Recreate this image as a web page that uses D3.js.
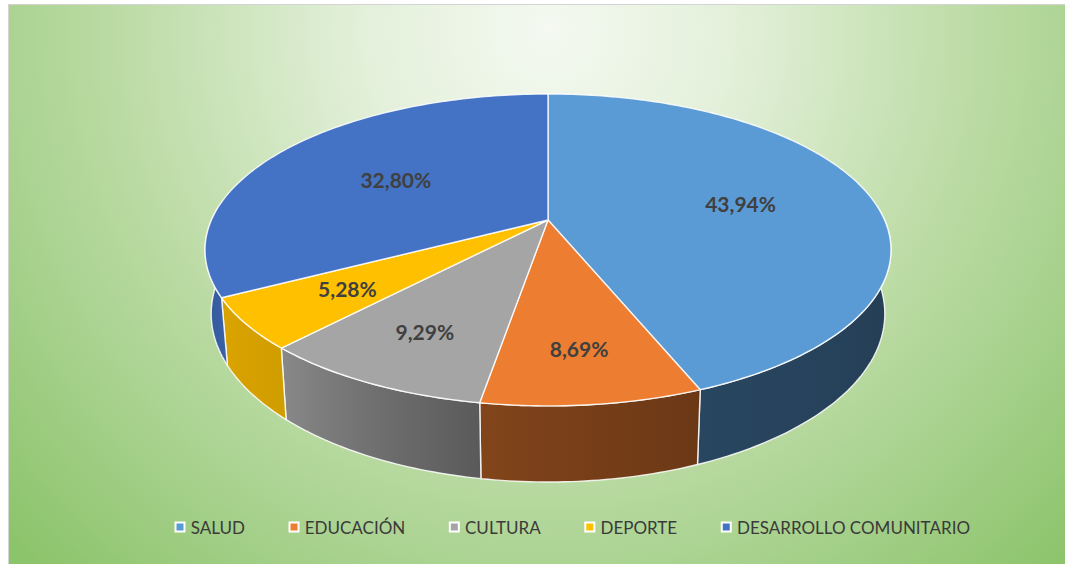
<!DOCTYPE html>
<html><head><meta charset="utf-8">
<script src="https://cdn.jsdelivr.net/npm/d3@7"></script>
<style>html,body{margin:0;padding:0;background:#fff;} svg{display:block;}</style>
</head><body>
<svg id="chart" width="1065" height="564"></svg>
<script>
// Distribución del presupuesto por área
const categories = ["SALUD", "EDUCACIÓN", "CULTURA", "DEPORTE", "DESARROLLO COMUNITARIO"];
const shares = [43.94, 8.69, 9.29, 5.28, 32.80];
const colors = ["#5b9bd5", "#ed7d31", "#a5a5a5", "#ffc000", "#4472c4"];

const W = 1065, H = 564;
const svg = d3.select("#chart");
const defs = svg.append("defs");

// Background panel with a soft radial green fill
const bg = defs.append("radialGradient").attr("id", "bgGrad")
  .attr("gradientUnits", "userSpaceOnUse")
  .attr("cx", 548).attr("cy", 30).attr("r", 740);
[[0, "#f5f9f1"], [0.25, "#e3f0da"], [0.55, "#bfdda9"], [0.8, "#a3cf88"], [1, "#8cc46b"]]
  .forEach(([o, c]) => bg.append("stop").attr("offset", o).attr("stop-color", c));
svg.append("rect").attr("x", 0).attr("y", 0).attr("width", W).attr("height", H).attr("fill", "#ffffff");
svg.append("rect").attr("x", 8.5).attr("y", 4.5).attr("width", W).attr("height", H)
  .attr("fill", "url(#bgGrad)").attr("stroke", "#d4d4d4").attr("stroke-width", 1);

// 3D pie geometry: a disk seen in perspective (top plane homography) plus thickness
const cx = 548, cy = 220, A = 336.6, B = 150.2, k = 0.192, T = 61.5, shrink = 0.982;
function proj(phi, r, level) {
  const u = r * Math.sin(phi), v = -r * Math.cos(phi);
  const s = 1 / (1 - k * v);
  let x = cx + A * u * s, y = cy + B * v * s;
  if (level) { x = cx + (x - cx) * shrink; y += T * s; }
  return [x, y];
}
function rim(a0, a1, level) {
  const n = Math.max(2, Math.ceil(Math.abs(a1 - a0) / (Math.PI / 180)));
  return d3.range(n + 1).map(i => proj(a0 + (a1 - a0) * i / n, 1, level));
}

const pie = d3.pie().sort(null).value(d => d.value);
const arcs = pie(categories.map((c, i) => ({ name: c, value: shares[i], color: colors[i], i })));

const deg = Math.PI / 180;
const shade = d3.scaleLinear().domain([90, 158, 190, 222, 240, 270])
  .range([0.38, 0.45, 0.55, 0.82, 0.85, 0.68]).clamp(true);
const scaleColor = (c, f) => { const q = d3.rgb(c); return d3.rgb(q.r * f, q.g * f, q.b * f).formatHex(); };

const edge = "rgba(255,255,255,0.85)";
const line = d3.line();

// Side walls (front half only is visible)
const sideG = svg.append("g");
arcs.forEach(a => {
  const lo = Math.max(a.startAngle, 85 * deg), hi = Math.min(a.endAngle, 275 * deg);
  if (hi <= lo) return;
  const top = rim(lo, hi, 0), bot = rim(hi, lo, 1);
  const glo = Math.max(lo, 101 * deg), ghi = Math.min(hi, 259 * deg);
  const x1 = proj(glo, 1, 0)[0], x2 = proj(ghi, 1, 0)[0];
  const gid = "side" + a.data.i;
  const g = defs.append("linearGradient").attr("id", gid).attr("gradientUnits", "userSpaceOnUse")
    .attr("x1", x1).attr("y1", 0).attr("x2", x2).attr("y2", 0);
  d3.range(9).forEach(j => {
    const ang = glo + (ghi - glo) * j / 8;
    const x = proj(ang, 1, 0)[0];
    const off = x2 === x1 ? 0 : (x - x1) / (x2 - x1);
    g.append("stop").attr("offset", Math.max(0, Math.min(1, off)))
      .attr("stop-color", scaleColor(a.data.color, shade(ang / deg)));
  });
  sideG.append("path").attr("d", line(top.concat(bot)) + "Z")
    .attr("fill", `url(#${gid})`).attr("stroke", edge).attr("stroke-width", 1.4)
    .attr("stroke-linejoin", "round");
});

// Top faces
const topG = svg.append("g");
arcs.forEach(a => {
  const pts = [[cx, cy]].concat(rim(a.startAngle, a.endAngle, 0));
  topG.append("path").attr("d", line(pts) + "Z")
    .attr("fill", a.data.color).attr("stroke", edge).attr("stroke-width", 1.4)
    .attr("stroke-linejoin", "round");
});

// Percentage labels
const fmt = v => d3.format(".2f")(v).replace(".", ",") + "%";
arcs.forEach(a => {
  const mid = (a.startAngle + a.endAngle) / 2;
  const r = 0.618 + 0.12 * (-Math.cos(mid));
  const [x, y] = proj(mid, r, 0);
  svg.append("text").attr("x", x).attr("y", y)
    .attr("text-anchor", "middle").attr("dominant-baseline", "central")
    .attr("font-family", "Lato, 'Open Sans', sans-serif").attr("font-weight", 700)
    .attr("font-size", 21).attr("fill", "#404040")
    .text(fmt(a.data.value));
});

// Legend
const legY = 527;
const legG = svg.append("g");
const items = categories.map((c, i) => {
  const t = legG.append("text").attr("y", legY).attr("dominant-baseline", "central")
    .attr("font-family", "Lato, 'Open Sans', sans-serif").attr("font-size", 17)
    .attr("fill", "#3a3a3a").text(c);
  return { t, w: t.node().getComputedTextLength(), i };
});
const startX = 180, endX = 970, textOff = 10.7;
const gap = (endX - startX - d3.sum(items, d => textOff + d.w)) / (items.length - 1);
let mx = startX;
items.forEach(d => {
  legG.append("rect").attr("x", mx - 5.5).attr("y", legY - 5.5).attr("width", 11).attr("height", 11)
    .attr("fill", "#ffffff");
  legG.append("rect").attr("x", mx - 3.5).attr("y", legY - 3.5).attr("width", 7).attr("height", 7)
    .attr("fill", colors[d.i]);
  d.t.attr("x", mx + textOff);
  mx += textOff + d.w + gap;
});
</script>
</body></html>
